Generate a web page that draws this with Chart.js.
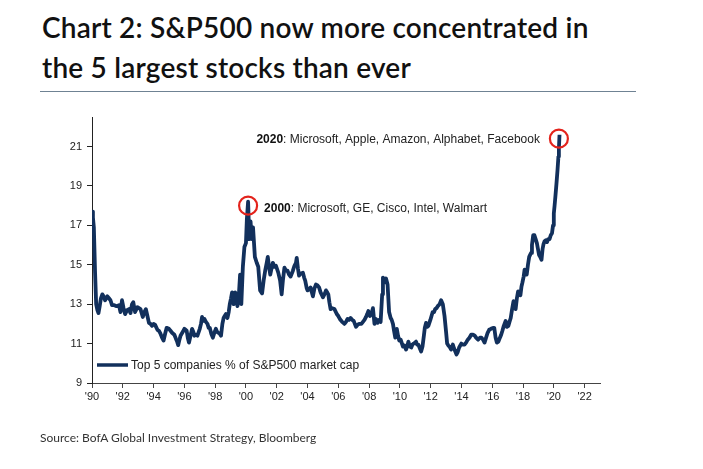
<!DOCTYPE html>
<html>
<head>
<meta charset="utf-8">
<script src="https://cdn.jsdelivr.net/npm/chart.js@4/dist/chart.umd.min.js"></script>
<style>
  html, body { margin: 0; padding: 0; background: #fff; }
  #wrap { position: relative; width: 703px; height: 469px; overflow: hidden; }
  #title { position: absolute; left: 42px; top: 7px; font-family: Lato, sans-serif; font-weight: 600;
           font-size: 28px; line-height: 40px; color: #111; letter-spacing: 0.2px; }
  #rule { position: absolute; left: 40px; top: 91px; width: 596px; height: 1px; background: #6f8293; }
  #source { position: absolute; left: 40px; top: 430px; font-family: Lato, sans-serif; font-size: 12px; color: #333; }
  canvas { position: absolute; left: 0; top: 0; }
</style>
</head>
<body>
<div id="wrap">
  <div id="title">Chart 2: S&amp;P500 now more concentrated in<br>the 5 largest stocks than ever</div>
  <div id="rule"></div>
  <canvas id="chart" width="703" height="469"></canvas>
  <div id="source">Source: BofA Global Investment Strategy, Bloomberg</div>
</div>
<script>
// top 5 companies' share of S&P500 market cap (%)
const years = [
  1990.00, 1990.06, 1990.12, 1990.20, 1990.27, 1990.35, 1990.42, 1990.50, 1990.58, 1990.67, 1990.75, 1990.85,
  1991.00, 1991.10, 1991.20, 1991.30, 1991.45, 1991.60, 1991.75, 1991.85, 1991.95,
  1992.05, 1992.15, 1992.28, 1992.40, 1992.50, 1992.60, 1992.68, 1992.80, 1992.95,
  1993.05, 1993.15, 1993.30, 1993.40, 1993.50, 1993.60, 1993.70, 1993.80, 1993.90,
  1994.00, 1994.10, 1994.25, 1994.35, 1994.45, 1994.55, 1994.65, 1994.75, 1994.85,
  1995.00, 1995.10, 1995.20, 1995.35, 1995.45, 1995.53, 1995.60, 1995.68, 1995.75, 1995.90,
  1996.00, 1996.15, 1996.22, 1996.30, 1996.40, 1996.50, 1996.58, 1996.65, 1996.75, 1996.85,
  1997.00, 1997.08, 1997.15, 1997.22, 1997.30, 1997.40, 1997.50, 1997.58, 1997.65, 1997.75, 1997.85, 1997.95,
  1998.05, 1998.12, 1998.20, 1998.30, 1998.38, 1998.47, 1998.55, 1998.62, 1998.70, 1998.80, 1998.88, 1998.95,
  1999.03, 1999.10, 1999.20, 1999.30, 1999.38, 1999.45, 1999.55, 1999.62, 1999.70, 1999.80, 1999.90,
  2000.00, 2000.06, 2000.14, 2000.22, 2000.30, 2000.38, 2000.46, 2000.58, 2000.70, 2000.80, 2000.92,
  2001.05, 2001.15, 2001.25, 2001.35, 2001.42, 2001.50, 2001.58, 2001.66, 2001.75, 2001.85, 2001.95,
  2002.10, 2002.22, 2002.32, 2002.40, 2002.50, 2002.60, 2002.70, 2002.80, 2002.90,
  2003.05, 2003.15, 2003.25, 2003.30, 2003.38, 2003.45, 2003.55, 2003.70, 2003.78, 2003.85, 2003.95,
  2004.00, 2004.10, 2004.20, 2004.28, 2004.35, 2004.45, 2004.55, 2004.65, 2004.75, 2004.85,
  2005.00, 2005.10, 2005.20, 2005.28, 2005.35, 2005.42, 2005.50, 2005.60, 2005.75, 2005.90,
  2006.00, 2006.10, 2006.25, 2006.40, 2006.50, 2006.60, 2006.70, 2006.80, 2006.90,
  2007.00, 2007.15, 2007.25, 2007.35, 2007.50, 2007.60, 2007.70, 2007.80, 2007.88, 2007.95,
  2008.05, 2008.15, 2008.25, 2008.35, 2008.45, 2008.55, 2008.65, 2008.75, 2008.85, 2008.90,
  2009.00, 2009.10, 2009.20, 2009.30, 2009.40, 2009.47, 2009.55, 2009.62, 2009.70, 2009.80, 2009.88, 2009.96,
  2010.05, 2010.20, 2010.30, 2010.40, 2010.48, 2010.55, 2010.65, 2010.74, 2010.82, 2010.90,
  2011.05, 2011.12, 2011.20, 2011.30, 2011.38, 2011.47, 2011.55, 2011.62, 2011.70, 2011.78, 2011.85, 2011.98,
  2012.13, 2012.22, 2012.29, 2012.38, 2012.46, 2012.58, 2012.68, 2012.79, 2012.90,
  2013.00, 2013.07, 2013.15, 2013.22, 2013.33, 2013.44, 2013.52, 2013.60, 2013.68, 2013.75, 2013.85, 2013.99,
  2014.10, 2014.20, 2014.30, 2014.41, 2014.52, 2014.63, 2014.75, 2014.86, 2014.95,
  2015.08, 2015.20, 2015.30, 2015.40, 2015.50, 2015.60, 2015.70, 2015.80, 2015.92,
  2016.05, 2016.13, 2016.22, 2016.30, 2016.40, 2016.50, 2016.58, 2016.66, 2016.75, 2016.87, 2016.95,
  2017.05, 2017.12, 2017.20, 2017.28, 2017.38, 2017.45, 2017.52, 2017.60, 2017.68, 2017.76, 2017.83, 2017.90, 2017.96,
  2018.04, 2018.10, 2018.17, 2018.24, 2018.32, 2018.40, 2018.46, 2018.52, 2018.58, 2018.66, 2018.74, 2018.82, 2018.90, 2018.97,
  2019.04, 2019.12, 2019.20, 2019.27, 2019.33, 2019.40, 2019.48, 2019.56, 2019.63, 2019.72, 2019.80, 2019.88, 2019.95,
  2020.00, 2020.05, 2020.10, 2020.17, 2020.24, 2020.30, 2020.33, 2020.37
];
const share = [
  17.7, 17.4, 16.9, 14.6, 13.0, 12.7, 12.55, 12.9, 13.3, 13.5, 13.4, 13.2,
  13.4, 13.3, 13.2, 12.95, 12.95, 12.9, 12.95, 12.6, 13.2,
  12.8, 12.5, 12.7, 12.75, 12.55, 13.0, 13.1, 12.6, 12.85,
  12.8, 12.75, 12.35, 12.6, 12.75, 12.4, 12.05, 12.0, 11.9,
  12.0, 11.95, 11.7, 11.65, 11.5, 11.3, 11.15, 11.5, 11.8,
  11.75, 11.65, 11.55, 11.45, 11.25, 11.1, 10.92, 11.2, 11.4, 11.6,
  11.75, 11.65, 11.3, 11.05, 11.4, 11.75, 11.6, 11.4, 11.45, 11.4,
  11.75, 12.0, 12.35, 12.15, 12.25, 12.1, 12.0, 11.8, 11.8, 11.5, 11.3, 11.55,
  11.75, 11.6, 11.55, 11.5, 11.4, 12.0, 12.3, 12.4, 12.5, 12.3, 12.6, 13.0,
  13.3, 13.6, 13.0, 13.6, 13.2, 12.9, 13.6, 14.5, 13.0, 14.9, 15.9,
  16.1, 17.3, 18.2, 16.3, 17.2, 16.3, 16.9, 15.4, 15.1, 14.9, 13.7,
  13.55, 14.2, 14.7, 15.1, 15.4, 14.9, 14.5, 14.8, 15.1, 14.9, 14.95,
  14.6, 14.2, 13.5, 14.2, 14.85, 14.7, 14.7, 14.5, 14.4,
  14.7, 14.95, 15.1, 15.35, 14.8, 14.45, 14.55, 14.6, 14.35, 14.2, 13.8,
  13.7, 13.75, 13.85, 13.6, 13.4, 13.8, 14.0, 13.95, 13.85, 13.6,
  13.35, 13.5, 13.7, 13.6, 13.5, 13.1, 12.75, 12.8, 12.75, 12.5,
  12.4, 12.25, 12.1, 12.0, 12.1, 12.25, 12.2, 12.3, 12.2,
  12.15, 11.85, 11.95, 12.0, 12.0, 12.1, 12.2, 12.35, 12.5, 12.65,
  12.4, 12.5, 12.8, 12.0, 12.25, 12.05, 12.2, 12.1, 13.5, 14.35,
  14.1, 14.3, 14.0, 12.6, 12.3, 12.2, 12.0, 11.65, 11.3, 11.75, 11.4, 11.15,
  11.2, 10.85, 10.9, 10.7, 10.85, 11.1, 10.85, 10.8, 10.95, 11.0,
  11.1, 10.95, 10.95, 10.75, 10.6, 10.85, 11.35, 11.8, 12.05, 11.85, 11.9, 12.2,
  12.6, 12.6, 12.75, 12.8, 12.9, 13.0, 13.2, 13.0, 12.4,
  11.6, 11.0, 10.9, 10.85, 10.7, 10.95, 10.75, 10.6, 10.45, 10.55, 10.8, 11.0,
  10.95, 10.95, 11.05, 11.2, 11.3, 11.45, 11.45, 11.4, 11.3,
  11.2, 11.3, 11.3, 11.2, 11.05, 11.3, 11.55, 11.7, 11.75,
  11.8, 11.8, 11.3, 11.05, 11.1, 11.3, 11.45, 11.65, 11.9, 12.15, 11.85,
  11.9, 12.1, 12.3, 12.7, 13.15, 12.9, 12.75, 13.3, 13.65, 13.6, 13.45, 13.9, 14.1,
  14.4, 14.75, 14.7, 14.5, 15.0, 15.4, 15.5, 15.6, 16.0, 16.5, 16.5, 16.3, 16.1, 15.8,
  15.5, 15.4, 15.25, 15.8, 16.05, 16.2, 16.25, 16.15, 16.3, 16.3, 16.5, 16.6, 17.0,
  17.6, 18.0, 18.45, 19.1, 19.8, 20.5, 20.9, 21.6
];

// circled peaks and their notes
const peakYears = [2000.14, 2020.33];
const peakValues = [18.0, 21.4];
const peakLabels = [["2000", ": Microsoft, GE, Cisco, Intel, Walmart"],
                    ["2020", ": Microsoft, Apple, Amazon, Alphabet, Facebook"]];

const xTicks = [1990, 1992, 1994, 1996, 1998, 2000, 2002, 2004, 2006, 2008, 2010, 2012, 2014, 2016, 2018, 2020, 2022];
const yTicks = [9, 11, 13, 15, 17, 19, 21];
const seriesName = "Top 5 companies % of S&P500 market cap";

const navy = "#12305c";
const red = "#e3231c";
const axisFont = "'Liberation Sans', Arial, sans-serif";

const notesPlugin = {
  id: "notes",
  afterDatasetsDraw(chart) {
    const { ctx, scales, chartArea } = chart;
    ctx.save();
    ctx.textBaseline = "middle";
    peakLabels.forEach(([yr, rest], i) => {
      const px = scales.x.getPixelForValue(peakYears[i]);
      const py = scales.y.getPixelForValue(peakValues[i]);
      ctx.font = "bold 12px " + axisFont;
      const w1 = ctx.measureText(yr).width;
      ctx.font = "12px " + axisFont;
      const w2 = ctx.measureText(rest).width;
      let x, y;
      if (i === 0) { x = px + 16; y = py + 3; }
      else { x = px - 19 - w1 - w2; y = py + 1; }
      ctx.fillStyle = "#111";
      ctx.font = "bold 12px " + axisFont;
      ctx.fillText(yr, x, y);
      ctx.font = "12px " + axisFont;
      ctx.fillStyle = "#222";
      ctx.fillText(rest, x + w1, y);
    });
    // legend inside the plot, bottom left
    const ly = chartArea.bottom - 18;
    ctx.strokeStyle = navy;
    ctx.lineWidth = 3.5;
    ctx.beginPath();
    ctx.moveTo(chartArea.left + 5, ly);
    ctx.lineTo(chartArea.left + 36, ly);
    ctx.stroke();
    ctx.fillStyle = "#222";
    ctx.font = "12px " + axisFont;
    ctx.fillText(seriesName, chartArea.left + 39, ly + 1);
    ctx.restore();
  }
};

new Chart(document.getElementById("chart"), {
  type: "line",
  data: {
    datasets: [
      {
        label: seriesName,
        data: years.map((x, i) => ({ x, y: share[i] })),
        borderColor: navy,
        borderWidth: 3.8,
        pointRadius: 0,
        tension: 0,
        borderJoinStyle: "round",
        order: 2
      },
      {
        type: "scatter",
        label: "peaks",
        data: peakYears.map((x, i) => ({ x, y: peakValues[i] })),
        pointRadius: 9,
        pointBorderWidth: 2.2,
        pointBorderColor: red,
        pointBackgroundColor: "rgba(0,0,0,0)",
        order: 1,
        clip: false
      }
    ]
  },
  options: {
    responsive: false,
    animation: false,
    devicePixelRatio: 1,
    layout: { padding: { left: 52, right: 103, top: 117, bottom: 56 } },
    plugins: { legend: { display: false }, tooltip: { enabled: false } },
    scales: {
      x: {
        type: "linear",
        min: 1990,
        max: 2023,
        afterBuildTicks: (s) => { s.ticks = xTicks.map((v) => ({ value: v })); },
        afterFit: (s) => { s.height = 30; },
        ticks: {
          autoSkip: false,
          maxRotation: 0,
          padding: 2,
          color: "#222",
          font: { family: axisFont, size: 11 },
          callback: (v) => "'" + String(v).slice(2)
        },
        grid: { drawOnChartArea: false, drawTicks: true, tickLength: 5, color: "#444" },
        border: { color: "#444", width: 1 }
      },
      y: {
        min: 9,
        max: 22.5,
        afterBuildTicks: (s) => { s.ticks = yTicks.map((v) => ({ value: v })); },
        afterFit: (s) => { s.width = 40; },
        ticks: {
          padding: 5,
          color: "#222",
          font: { family: axisFont, size: 11 }
        },
        grid: { drawOnChartArea: false, drawTicks: true, tickLength: 5, color: "#222" },
        border: { color: "#222", width: 1 }
      }
    }
  },
  plugins: [notesPlugin]
});
</script>
</body>
</html>
